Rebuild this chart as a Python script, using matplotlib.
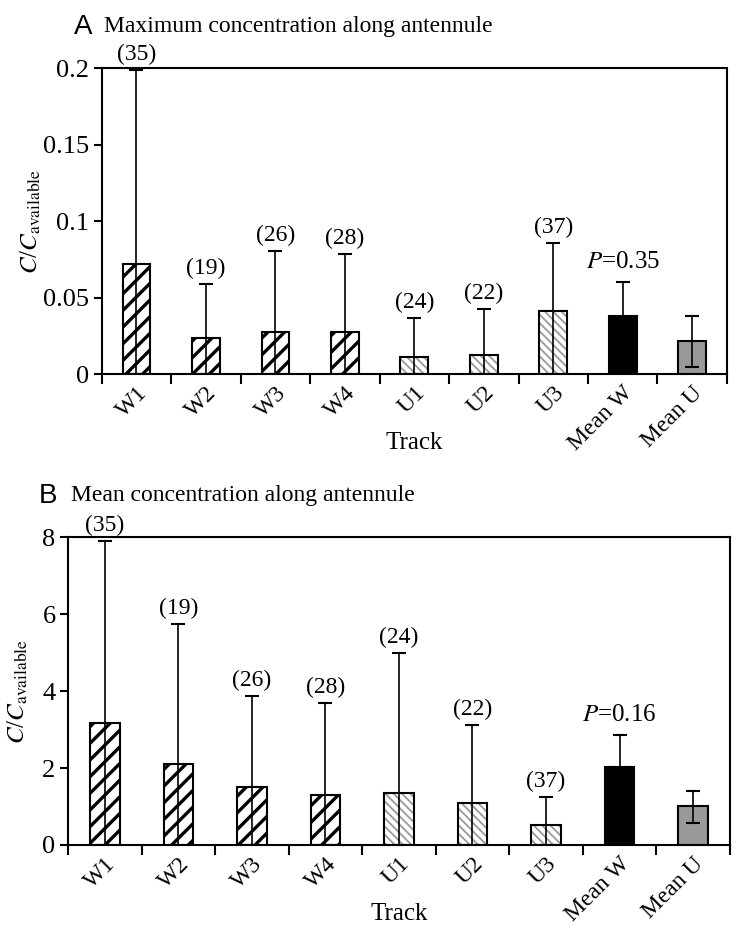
import numpy as np
import matplotlib
matplotlib.use("Agg")
from matplotlib import pyplot as plt

plt.rcParams["font.family"] = ["Liberation Serif", "DejaVu Serif"]
plt.rcParams["mathtext.fontset"] = "stix"
plt.rcParams["hatch.linewidth"] = 2.4

# data
tracks = ["W1", "W2", "W3", "W4", "U1", "U2", "U3", "Mean W", "Mean U"]
n_labels = ["(35)", "(19)", "(26)", "(28)", "(24)", "(22)", "(37)"]

max_vals = [0.0717, 0.0237, 0.0276, 0.0276, 0.0115, 0.0128, 0.041, 0.038, 0.0216]
max_upper = [0.199, 0.059, 0.0806, 0.0784, 0.0366, 0.0427, 0.0856, 0.060, 0.038]
max_lower = [0, 0, 0, 0, 0, 0, 0, 0, 0.0048]
max_p = "0.35"

mean_vals = [3.16, 2.10, 1.50, 1.31, 1.36, 1.10, 0.52, 2.02, 1.00]
mean_upper = [7.9, 5.75, 3.86, 3.68, 5.0, 3.12, 1.24, 2.85, 1.41]
mean_lower = [0, 0, 0, 0, 0, 0, 0, 0, 0.58]
mean_p = "0.16"


def draw_panel(ax, vals, upper, lower, p_text, yticks, ylabels, letter, title, pad, ylab_x):
    x = np.arange(len(tracks))
    vals = np.array(vals)
    upper = np.array(upper)
    lower = np.array(lower)
    for i in x:
        if i < 4:
            ax.bar(i, vals[i], 0.4, color="white", edgecolor="black", hatch="//", linewidth=1.5, zorder=2)
        elif i < 7:
            with plt.rc_context({"hatch.linewidth": 1.3}):
                ax.bar(i, vals[i], 0.4, color="white", edgecolor="#9a9a9a", hatch="\\" * 4,
                       linewidth=0, zorder=2)
            ax.bar(i, vals[i], 0.4, color="none", edgecolor="black", linewidth=1.5, zorder=2.5)
        elif i == 7:
            ax.bar(i, vals[i], 0.4, color="black", edgecolor="black", linewidth=1.5, zorder=2)
        else:
            ax.bar(i, vals[i], 0.4, color="#999999", edgecolor="black", linewidth=1.5, zorder=2)
    ax.errorbar(x, vals, yerr=[vals - lower, upper - vals], fmt="none", ecolor="black",
                elinewidth=1.2, capsize=5, capthick=1.5, zorder=3)
    for i, lab in enumerate(n_labels):
        ax.text(i, upper[i] + pad, lab, ha="center", va="bottom", fontsize=17)
    ax.text(7, upper[7] + pad * 1.9, "$P$=" + p_text, ha="center", va="bottom", fontsize=18)

    ax.set_xlim(-0.5, len(tracks) - 0.5)
    ax.set_ylim(0, yticks[-1])
    ax.set_yticks(yticks)
    ax.set_yticklabels(ylabels, fontsize=19)
    ax.set_xticks(x)
    ax.set_xticklabels(tracks, rotation=45, ha="right", rotation_mode="anchor", fontsize=17)
    ax.set_xticks(np.arange(len(tracks) + 1) - 0.5, minor=True)
    ax.tick_params(axis="x", which="major", length=0, pad=6)
    ax.tick_params(axis="x", which="minor", length=7, width=1.5, direction="out")
    ax.tick_params(axis="y", length=6, width=1.5, direction="out", pad=3)
    for s in ax.spines.values():
        s.set_linewidth(1.5)
    ax.set_xlabel("Track", fontsize=18)
    ax.xaxis.set_label_coords(0.5, -0.19)
    ax.set_ylabel("$C$/$C_{\\mathrm{available}}$", fontsize=18)
    ax.yaxis.set_label_coords(ylab_x, 0.5)
    ax.text(-0.045, 1.135, letter, transform=ax.transAxes, family="Liberation Sans", fontsize=20,
            ha="left", va="center")
    ax.text(0.004, 1.135, title, transform=ax.transAxes, fontsize=17, ha="left", va="center")


fig = plt.figure(figsize=(7.32, 9.26), dpi=100)
ax1 = fig.add_axes([0.139, 0.596, 0.854, 0.3305])
ax2 = fig.add_axes([0.093, 0.0875, 0.904, 0.3325])

draw_panel(ax1, max_vals, max_upper, max_lower, max_p, [0, 0.05, 0.1, 0.15, 0.2],
           ["0", "0.05", "0.1", "0.15", "0.2"], "A", "Maximum concentration along antennule",
           0.0033, -0.094)
draw_panel(ax2, mean_vals, mean_upper, mean_lower, mean_p, [0, 2, 4, 6, 8],
           ["0", "2", "4", "6", "8"], "B", "Mean concentration along antennule",
           0.13, -0.057)

fig.savefig("out.png", dpi=100)
